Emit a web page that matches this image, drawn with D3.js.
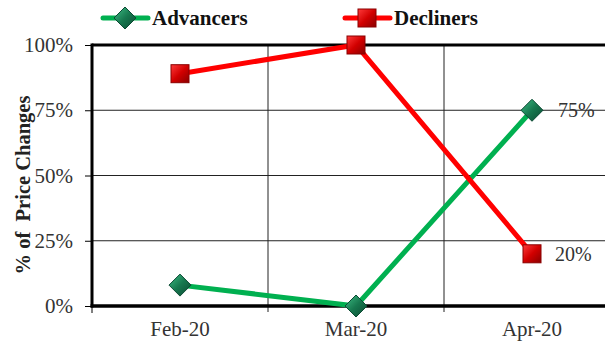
<!DOCTYPE html>
<html lang="en">
<head>
<meta charset="utf-8">
<title>Advancers vs Decliners</title>
<script src="https://cdn.jsdelivr.net/npm/d3@7"></script>
<style>
  body { margin: 0; background: #fff; }
  text { font-family: "Liberation Serif", "DejaVu Serif", serif; }
</style>
</head>
<body>
<script>
// chart data
var months = ["Feb-20", "Mar-20", "Apr-20"];
var advancers = [0.08, 0.0, 0.75];
var decliners = [0.89, 1.0, 0.20];
var yTicks = [0, 0.25, 0.5, 0.75, 1];

var w = 605, h = 344;
var margin = {top: 45, right: -15, bottom: 38, left: 92};
var iw = w - margin.left - margin.right,
    ih = h - margin.top - margin.bottom;

var svg = d3.select("body").append("svg")
  .attr("width", w).attr("height", h);

var defs = svg.append("defs");
var gg = defs.append("linearGradient").attr("id", "gDia")
  .attr("x1", "0").attr("y1", "0").attr("x2", "1").attr("y2", "1");
gg.append("stop").attr("offset", "0").attr("stop-color", "#3fbf86");
gg.append("stop").attr("offset", "0.5").attr("stop-color", "#17784f");
gg.append("stop").attr("offset", "1").attr("stop-color", "#0b4a33");
var rg = defs.append("linearGradient").attr("id", "gSq")
  .attr("x1", "0").attr("y1", "0").attr("x2", "1").attr("y2", "1");
rg.append("stop").attr("offset", "0").attr("stop-color", "#ff3b3b");
rg.append("stop").attr("offset", "0.5").attr("stop-color", "#d20000");
rg.append("stop").attr("offset", "1").attr("stop-color", "#8a0000");

var g = svg.append("g").attr("transform", "translate(" + margin.left + "," + margin.top + ")");

var x = d3.scaleBand().domain(months).range([0, iw]);
var y = d3.scaleLinear().domain([0, 1]).range([ih, 0]);
var cx = function(m) { return x(m) + x.bandwidth() / 2; };

// horizontal gridlines
g.selectAll(".hgrid").data(yTicks.slice(1, 4)).enter().append("line")
  .attr("x1", 0).attr("x2", iw)
  .attr("y1", function(d) { return y(d); }).attr("y2", function(d) { return y(d); })
  .attr("stroke", "#222").attr("stroke-width", 1);

// vertical gridlines between categories
g.selectAll(".vgrid").data(months.slice(1)).enter().append("line")
  .attr("x1", function(d) { return x(d); }).attr("x2", function(d) { return x(d); })
  .attr("y1", 0).attr("y2", ih + 6)
  .attr("stroke", "#222").attr("stroke-width", 1);

// top border
g.append("line").attr("x1", 0).attr("x2", iw).attr("y1", 0).attr("y2", 0)
  .attr("stroke", "#000").attr("stroke-width", 3);

// y axis
var yAxis = g.append("g").call(d3.axisLeft(y).tickValues(yTicks)
  .tickFormat(d3.format(".0%")).tickSize(7).tickPadding(12));
yAxis.select(".domain").remove();
yAxis.append("line").attr("x1", 0).attr("x2", 0).attr("y1", -1.5).attr("y2", ih + 1.5)
  .attr("stroke", "#000").attr("stroke-width", 3);
yAxis.selectAll("text").attr("font-size", 21).attr("fill", "#333")
  .style("font-family", "'Liberation Serif', serif");

// x axis
var xAxis = g.append("g").attr("transform", "translate(0," + ih + ")")
  .call(d3.axisBottom(x).tickSize(0).tickPadding(15));
xAxis.select(".domain").remove();
xAxis.append("line").attr("x1", -1.5).attr("x2", iw).attr("y1", 0).attr("y2", 0)
  .attr("stroke", "#000").attr("stroke-width", 3.5);
xAxis.append("line").attr("x1", 0).attr("x2", 0).attr("y1", 0).attr("y2", 7)
  .attr("stroke", "#000").attr("stroke-width", 1);
xAxis.selectAll("text").attr("font-size", 21).attr("fill", "#333")
  .style("font-family", "'Liberation Serif', serif");

// y axis title
svg.append("text")
  .attr("transform", "translate(23," + (margin.top + 140) + ") rotate(-90)")
  .attr("text-anchor", "middle").attr("dy", "0.35em")
  .attr("font-size", 20.5).attr("font-weight", "bold").attr("fill", "#222")
  .style("white-space", "pre")
  .text("% of  Price Changes");

var line = d3.line()
  .x(function(d, i) { return cx(months[i]); })
  .y(function(d) { return y(d); });

g.append("path").datum(advancers).attr("d", line)
  .attr("fill", "none").attr("stroke", "#00b050").attr("stroke-width", 5);
g.append("path").datum(decliners).attr("d", line)
  .attr("fill", "none").attr("stroke", "#ff0000").attr("stroke-width", 5);

function diamond(sel) {
  sel.append("path").attr("d", "M0,-11L11,0L0,11L-11,0Z")
    .attr("fill", "url(#gDia)").attr("stroke", "#0b4a33").attr("stroke-width", 1);
}
function square(sel) {
  sel.append("rect").attr("x", -9).attr("y", -9).attr("width", 18).attr("height", 18)
    .attr("fill", "url(#gSq)").attr("stroke", "#8a0000").attr("stroke-width", 1);
}

g.selectAll(".adv").data(advancers).enter().append("g")
  .attr("transform", function(d, i) { return "translate(" + cx(months[i]) + "," + y(d) + ")"; })
  .call(diamond);
g.selectAll(".dec").data(decliners).enter().append("g")
  .attr("transform", function(d, i) { return "translate(" + cx(months[i]) + "," + y(d) + ")"; })
  .call(square);

// last-point labels
var last = months.length - 1;
g.append("text").attr("x", cx(months[last]) + 26).attr("y", y(advancers[last]))
  .attr("dy", "0.35em").attr("font-size", 20).attr("fill", "#333")
  .text(d3.format(".0%")(advancers[last]));
g.append("text").attr("x", cx(months[last]) + 23).attr("y", y(decliners[last]))
  .attr("dy", "0.35em").attr("font-size", 20).attr("fill", "#333")
  .text(d3.format(".0%")(decliners[last]));

// legend
var legend = [
  {name: "Advancers", color: "#00b050", mark: diamond, x: 103},
  {name: "Decliners", color: "#ff0000", mark: square, x: 345}
];
legend.forEach(function(l) {
  var lg = svg.append("g").attr("transform", "translate(" + l.x + ",18)");
  lg.append("line").attr("x1", 0).attr("x2", 45).attr("y1", 0).attr("y2", 0)
    .attr("stroke", l.color).attr("stroke-width", 5).attr("stroke-linecap", "round");
  lg.append("g").attr("transform", "translate(22,0)").call(l.mark);
  lg.append("text").attr("x", 49).attr("y", 0).attr("dy", "0.35em")
    .attr("font-size", 21).attr("font-weight", "bold").attr("fill", "#111")
    .text(l.name);
});
</script>
</body>
</html>
